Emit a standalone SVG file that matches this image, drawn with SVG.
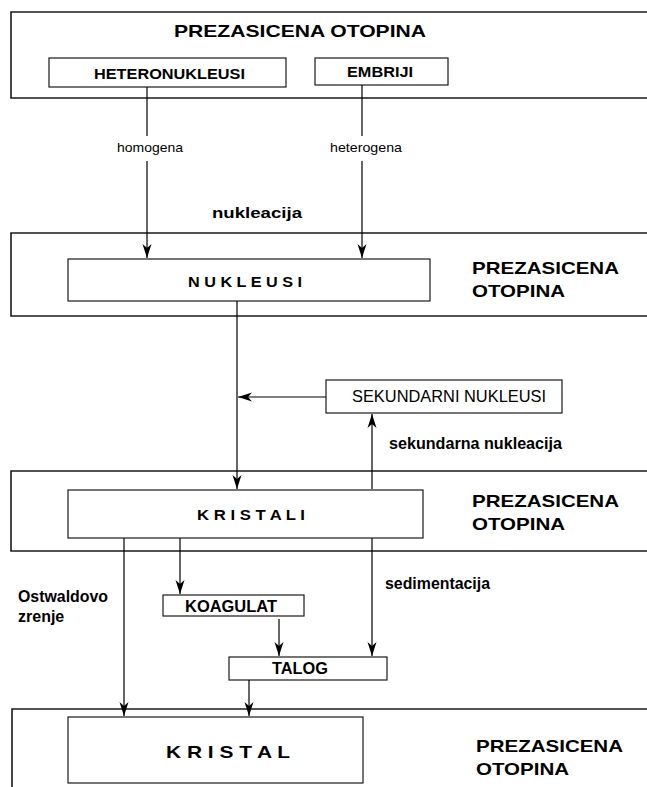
<svg xmlns="http://www.w3.org/2000/svg" width="647" height="787" viewBox="0 0 647 787">
<style>
  .outer{fill:none;stroke:#1a1a1a;stroke-width:1.6}
  .box{fill:#fff;stroke:#1a1a1a;stroke-width:1.2}
  .ln{fill:none;stroke:#000;stroke-width:1.2}
  .b{font-family:"Liberation Sans",Arial,sans-serif;font-weight:bold;fill:#000}
  .r{font-family:"Liberation Sans",Arial,sans-serif;fill:#000}
</style>
<defs>
  <marker id="arr" markerUnits="userSpaceOnUse" markerWidth="16" markerHeight="12" viewBox="-14 -6 16 12" refX="0" refY="0" orient="auto">
    <path d="M0,0 L-14,-4.5 L-10,0 L-14,4.5 Z" fill="#000"/>
  </marker>
</defs>
<rect width="647" height="787" fill="#fff"/>

<g id="solution-top">
  <path class="outer" d="M660,12 H11 V98 H660"/>
  <text class="b" x="174" y="37" font-size="17" textLength="252" lengthAdjust="spacingAndGlyphs">PREZASICENA OTOPINA</text>
</g>
<g id="heteronukleusi">
  <rect class="box" x="49" y="58" width="237" height="29"/>
  <text class="b" x="94" y="79" font-size="14" textLength="151" lengthAdjust="spacingAndGlyphs">HETERONUKLEUSI</text>
</g>
<g id="embriji">
  <rect class="box" x="315" y="58" width="133" height="27"/>
  <text class="b" x="347" y="77" font-size="14" textLength="66" lengthAdjust="spacingAndGlyphs">EMBRIJI</text>
</g>

<g id="solution-nukleusi">
  <path class="outer" d="M660,233 H11 V316 H660"/>
  <text class="b" x="472" y="274" font-size="17" textLength="147" lengthAdjust="spacingAndGlyphs">PREZASICENA</text>
  <text class="b" x="472" y="297" font-size="17" textLength="93" lengthAdjust="spacingAndGlyphs">OTOPINA</text>
</g>
<g id="nukleusi">
  <rect class="box" x="68" y="259" width="362" height="42"/>
  <text class="b" x="188" y="287" font-size="14" textLength="114" lengthAdjust="spacingAndGlyphs">N U K L E U S I</text>
</g>

<g id="sekundarni-nukleusi">
  <rect class="box" x="326" y="380" width="236" height="33"/>
  <text class="r" x="352" y="402" font-size="16" textLength="194" lengthAdjust="spacingAndGlyphs">SEKUNDARNI NUKLEUSI</text>
</g>

<g id="solution-kristali">
  <path class="outer" d="M660,471 H11 V551 H660"/>
  <text class="b" x="472" y="507" font-size="17" textLength="147" lengthAdjust="spacingAndGlyphs">PREZASICENA</text>
  <text class="b" x="472" y="530" font-size="17" textLength="93" lengthAdjust="spacingAndGlyphs">OTOPINA</text>
</g>
<g id="kristali">
  <rect class="box" x="68" y="490" width="355" height="48"/>
  <text class="b" x="197" y="520" font-size="14" textLength="108" lengthAdjust="spacingAndGlyphs">K R I S T A L I</text>
</g>

<g id="koagulat">
  <rect class="box" x="163" y="595" width="141" height="21"/>
  <text class="b" x="185" y="612" font-size="16" textLength="92" lengthAdjust="spacingAndGlyphs">KOAGULAT</text>
</g>
<g id="talog">
  <rect class="box" x="229" y="657" width="158" height="23"/>
  <text class="b" x="272" y="674" font-size="16" textLength="56" lengthAdjust="spacingAndGlyphs">TALOG</text>
</g>

<g id="solution-kristal">
  <path class="outer" d="M660,709 H12 V787"/>
  <text class="b" x="476" y="752" font-size="17" textLength="147" lengthAdjust="spacingAndGlyphs">PREZASICENA</text>
  <text class="b" x="476" y="775" font-size="17" textLength="93" lengthAdjust="spacingAndGlyphs">OTOPINA</text>
</g>
<g id="kristal">
  <rect class="box" x="68" y="717" width="295" height="66"/>
  <text class="b" x="166" y="758" font-size="17" textLength="124" lengthAdjust="spacingAndGlyphs">K R I S T A L</text>
</g>

<g id="connectors">
  <path class="ln" d="M147,87 V136"/>
  <path class="ln" d="M147,161 V258" marker-end="url(#arr)"/>
  <path class="ln" d="M362,85 V136"/>
  <path class="ln" d="M362,161 V258" marker-end="url(#arr)"/>
  <path class="ln" d="M237,301 V489" marker-end="url(#arr)"/>
  <path class="ln" d="M326,397 H238" marker-end="url(#arr)"/>
  <path class="ln" d="M372,489 V414" marker-end="url(#arr)"/>
  <path class="ln" d="M124,538 V716" marker-end="url(#arr)"/>
  <path class="ln" d="M180,538 V594" marker-end="url(#arr)"/>
  <path class="ln" d="M372,538 V656" marker-end="url(#arr)"/>
  <path class="ln" d="M279,619 V656" marker-end="url(#arr)"/>
  <path class="ln" d="M249,680 V716" marker-end="url(#arr)"/>
</g>

<g id="labels">
  <text class="r" x="117" y="152" font-size="13.5" textLength="66" lengthAdjust="spacingAndGlyphs">homogena</text>
  <text class="r" x="330" y="152" font-size="13.5" textLength="72" lengthAdjust="spacingAndGlyphs">heterogena</text>
  <text class="b" x="212" y="218" font-size="15" textLength="90" lengthAdjust="spacingAndGlyphs">nukleacija</text>
  <text class="b" x="389" y="449" font-size="16" textLength="173" lengthAdjust="spacingAndGlyphs">sekundarna nukleacija</text>
  <text class="b" x="18" y="602" font-size="16" textLength="90" lengthAdjust="spacingAndGlyphs">Ostwaldovo</text>
  <text class="b" x="18" y="622" font-size="16">zrenje</text>
  <text class="b" x="385" y="589" font-size="16" textLength="105" lengthAdjust="spacingAndGlyphs">sedimentacija</text>
</g>
</svg>
